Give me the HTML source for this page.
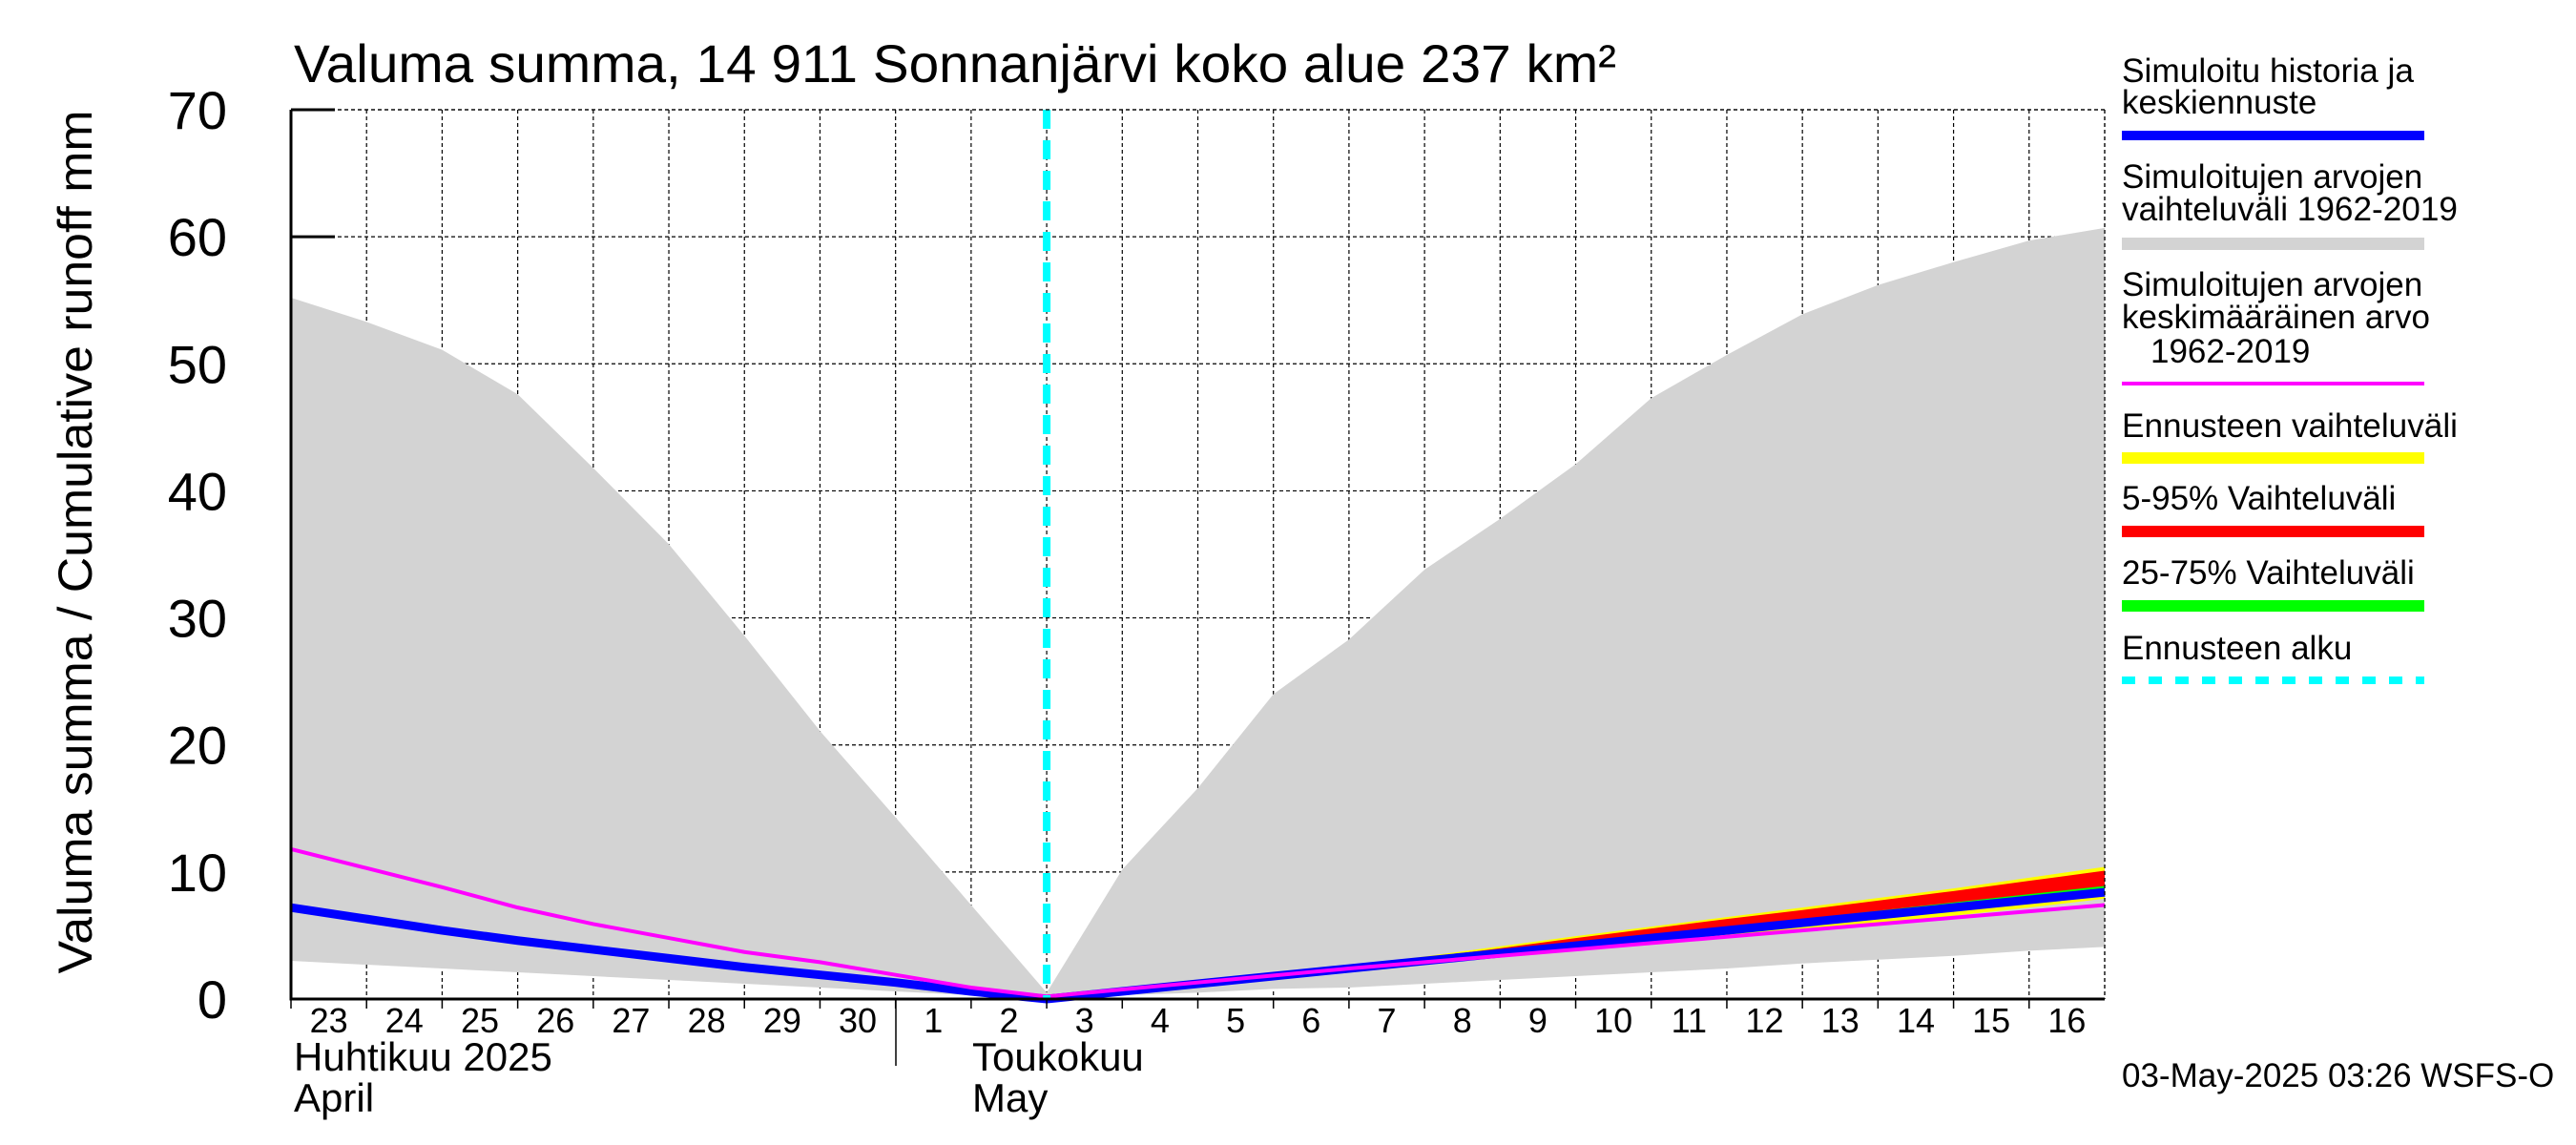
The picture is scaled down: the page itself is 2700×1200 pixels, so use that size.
<!DOCTYPE html>
<html><head><meta charset="utf-8"><style>
html,body{margin:0;padding:0;background:#fff;}
svg{display:block;font-family:"Liberation Sans",sans-serif;}
</style></head><body>
<svg id="chart" width="2700" height="1200" viewBox="0 0 2700 1200" xmlns="http://www.w3.org/2000/svg">
<rect x="0" y="0" width="2700" height="1200" fill="#fff"/>
<g id="grid"></g>
<g id="bands"></g>
<g id="lines"></g>
<g id="axes"></g>
<text x="308" y="86" font-size="56" textLength="1386" lengthAdjust="spacingAndGlyphs">Valuma summa, 14 911 Sonnanjärvi koko alue 237 km²</text>
<text transform="translate(96,568) rotate(-90)" text-anchor="middle" font-size="50" textLength="905" lengthAdjust="spacingAndGlyphs">Valuma summa / Cumulative runoff    mm</text>
<g id="xlabels"></g>
<text x="308" y="1122" font-size="42">Huhtikuu  2025</text>
<text x="308" y="1165" font-size="42">April</text>
<text x="1019" y="1122" font-size="42">Toukokuu</text>
<text x="1019" y="1165" font-size="42">May</text>
<line x1="939" y1="1047" x2="939" y2="1117" stroke="#000" stroke-width="1.5"/>
<g font-size="35">
<text x="2224" y="86" textLength="306" lengthAdjust="spacingAndGlyphs">Simuloitu historia ja</text>
<text x="2224" y="119">keskiennuste</text>
<rect x="2224" y="137" width="317" height="10" fill="#0000ff"/>
<text x="2224" y="197">Simuloitujen arvojen</text>
<text x="2224" y="231" textLength="352" lengthAdjust="spacingAndGlyphs">vaihteluväli 1962-2019</text>
<rect x="2224" y="249" width="317" height="13" fill="#d3d3d3"/>
<text x="2224" y="310">Simuloitujen arvojen</text>
<text x="2224" y="344">keskimääräinen arvo</text>
<text x="2254" y="380">1962-2019</text>
<rect x="2224" y="400" width="317" height="4" fill="#ff00ff"/>
<text x="2224" y="458" textLength="352" lengthAdjust="spacingAndGlyphs">Ennusteen vaihteluväli</text>
<rect x="2224" y="474" width="317" height="12" fill="#ffff00"/>
<text x="2224" y="534">5-95% Vaihteluväli</text>
<rect x="2224" y="551" width="317" height="12" fill="#ff0000"/>
<text x="2224" y="612">25-75% Vaihteluväli</text>
<rect x="2224" y="629" width="317" height="12" fill="#00ff00"/>
<text x="2224" y="691">Ennusteen alku</text>
<line x1="2224" y1="713" x2="2541" y2="713" stroke="#00ffff" stroke-width="8" stroke-dasharray="14,14"/>
</g>
<text x="2224" y="1139" font-size="35">03-May-2025 03:26 WSFS-O</text>
</svg>
<script>
const dayLabels = ["23","24","25","26","27","28","29","30","1","2","3","4","5","6","7","8","9","10","11","12","13","14","15","16"];
const yTicks = [0,10,20,30,40,50,60,70];
const rangeMax = [55.2,53.3,51.1,47.6,41.8,35.8,28.6,21.1,14.3,7.4,0.5,10.2,16.6,24.0,28.3,33.8,37.8,42.1,47.3,50.7,53.9,56.2,58.0,59.7,60.7];
const rangeMin = [3.0,2.7,2.4,2.1,1.8,1.5,1.2,0.9,0.6,0.3,0,0.3,0.5,0.8,0.9,1.2,1.5,1.8,2.1,2.4,2.8,3.1,3.4,3.8,4.1];
const meanSeries = [11.8,10.3,8.8,7.2,5.9,4.8,3.7,2.9,1.9,0.9,0.2,0.75,1.3,1.85,2.4,2.9,3.4,3.9,4.4,4.9,5.4,5.9,6.4,6.9,7.4,7.8];
const historySeries = [7.2,6.3,5.4,4.6,3.9,3.2,2.5,1.9,1.3,0.6,0];
const forecastMedian = [0,0.6,1.2,1.8,2.4,3.0,3.6,4.2,4.8,5.4,6.0,6.6,7.2,7.8,8.4];
const fcMax = [0,0.65,1.3,1.95,2.6,3.35,4.15,4.95,5.7,6.45,7.2,7.95,8.7,9.55,10.4];
const fcMin = [0,0.55,1.1,1.65,2.2,2.75,3.3,3.85,4.35,4.9,5.45,6.0,6.55,7.2,7.9];
const p95 = [0,0.63,1.27,1.9,2.55,3.25,4.0,4.8,5.55,6.3,7.0,7.75,8.5,9.3,10.1];
const p5 = [0,0.57,1.15,1.72,2.3,2.85,3.45,4.0,4.6,5.2,5.8,6.4,7.0,7.7,8.2];
const p75 = [0,0.61,1.22,1.84,2.45,3.05,3.7,4.35,4.95,5.6,6.3,6.95,7.6,8.25,8.9];
const p25 = [0,0.59,1.18,1.76,2.35,2.95,3.5,4.05,4.65,5.25,5.85,6.45,7.1,7.65,8.3];
const forecastStartIndex = 10;

const X0=305, X1=2206, Y0=1047, Y1=115, NDAYS=24, YMAX=70;
const xs = i => X0 + (X1-X0)*i/NDAYS;
const ys = v => Y0 - (Y0-Y1)*v/YMAX;
const NS="http://www.w3.org/2000/svg";
function mk(tag, parent, attrs){const e=document.createElementNS(NS,tag);for(const k in attrs)e.setAttribute(k,attrs[k]);parent.appendChild(e);return e;}
const grid=document.getElementById('grid'), bands=document.getElementById('bands'), lines=document.getElementById('lines'), axes=document.getElementById('axes'), xl=document.getElementById('xlabels');
const svg=document.getElementById('chart');

for(let i=1;i<=NDAYS;i++){
  const g=mk('line',grid,{x1:xs(i),y1:Y1,x2:xs(i),y2:Y0,stroke:'#000','stroke-width':1.2,'stroke-dasharray':'4,3'});
  
  
}
yTicks.forEach(v=>{
  if(v===0)return;
  const g=mk('line',grid,{x1:X0,y1:ys(v),x2:X1,y2:ys(v),stroke:'#000','stroke-width':1.2,'stroke-dasharray':'4,3'});
  
  
  const t=mk('line',grid,{x1:X0,y1:ys(v),x2:X0+46,y2:ys(v),stroke:'#000','stroke-width':3});
  
  
});

function band(up, lo, off, fill, name){
  let d='';
  up.forEach((v,i)=>{d+=(i?'L':'M')+xs(i+off)+','+ys(v);});
  for(let i=lo.length-1;i>=0;i--) d+='L'+xs(i+off)+','+ys(lo[i]);
  const p=mk('path',bands,{d:d+'Z',fill:fill});
  
  
}
function line(arr, off, stroke, w, name){
  const pts=arr.map((v,i)=>xs(i+off)+','+ys(v)).join(' ');
  const p=mk('polyline',lines,{points:pts,fill:'none',stroke:stroke,'stroke-width':w,'stroke-linejoin':'round'});
  
  
}
band(rangeMax, rangeMin, 0, '#d3d3d3', 'historical-range-band');
band(fcMax, fcMin, forecastStartIndex, '#ffff00', 'forecast-range-band');
band(p95, p5, forecastStartIndex, '#ff0000', 'forecast-5-95-band');
band(p75, p25, forecastStartIndex, '#00ff00', 'forecast-25-75-band');
line(historySeries, 0, '#0000ff', 9, 'history-line');
line(forecastMedian, forecastStartIndex, '#0000ff', 9, 'forecast-median-line');
line(meanSeries.slice(0,25), 0, '#ff00ff', 4, 'mean-line');

const fx=xs(forecastStartIndex);
const fl=mk('line',lines,{x1:fx,y1:Y1,x2:fx,y2:Y0,stroke:'#00ffff','stroke-width':8,'stroke-dasharray':'20,12'});



const a1=mk('line',axes,{x1:X0,y1:Y1,x2:X0,y2:Y0+1.5,stroke:'#000','stroke-width':3});


const a2=mk('line',axes,{x1:X0,y1:Y0,x2:X1,y2:Y0,stroke:'#000','stroke-width':3});


const a3=mk('line',axes,{x1:X0,y1:Y1,x2:X1,y2:Y1,stroke:'#000','stroke-width':1.2,'stroke-dasharray':'4,3'});


const a4=mk('line',axes,{x1:X1,y1:Y1,x2:X1,y2:Y0,stroke:'#000','stroke-width':1.2,'stroke-dasharray':'4,3'});



yTicks.forEach(v=>{
  const t=mk('text',svg,{x:238,y:ys(v)+20,'text-anchor':'end','font-size':56});
  t.textContent=String(v);
  
  
});
dayLabels.forEach((d,i)=>{
  const tk=mk('line',xl,{x1:xs(i),y1:Y0,x2:xs(i),y2:Y0+10,stroke:'#000','stroke-width':1.5});
  
  
  const t=mk('text',xl,{x:xs(i)+39.6,y:1082,'text-anchor':'middle','font-size':36});
  t.textContent=d;
  
  
});
</script>
</body></html>
